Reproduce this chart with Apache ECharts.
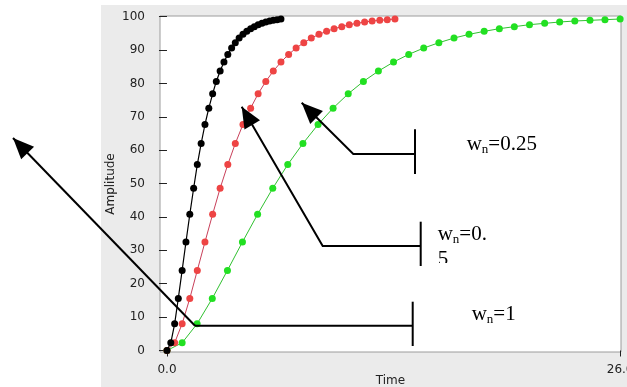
<!DOCTYPE html>
<html><head><meta charset="utf-8">
<script src="https://cdn.jsdelivr.net/npm/echarts@6/dist/echarts.min.js"></script>
<style>html,body{margin:0;padding:0;background:#fff;overflow:hidden}#c{width:627px;height:387px}</style>
</head><body><div id="c"></div>
<script>
// ---- data ----
const seriesNames = ['wn=1', 'wn=0.5', 'wn=0.25'];
const timeW1 = [0, 0.22, 0.44, 0.65, 0.87, 1.09, 1.31, 1.53, 1.74, 1.96, 2.18, 2.40, 2.62, 2.83, 3.05, 3.27, 3.49, 3.71, 3.92, 4.14, 4.36, 4.58, 4.80, 5.01, 5.23, 5.45, 5.67, 5.89, 6.10, 6.32, 6.54];
const ampW1 = [0, 2.3, 8.0, 15.6, 24.0, 32.5, 40.8, 48.6, 55.7, 62.0, 67.7, 72.6, 76.9, 80.6, 83.7, 86.4, 88.7, 90.6, 92.2, 93.6, 94.7, 95.6, 96.4, 97.0, 97.6, 98.0, 98.4, 98.7, 98.9, 99.1, 99.3];
const timeW05 = [0, 0.44, 0.87, 1.31, 1.74, 2.18, 2.62, 3.05, 3.49, 3.92, 4.36, 4.80, 5.23, 5.67, 6.10, 6.54, 6.98, 7.41, 7.85, 8.28, 8.72, 9.16, 9.59, 10.03, 10.46, 10.90, 11.34, 11.77, 12.21, 12.64, 13.08];
const ampW05 = [0, 2.3, 8.0, 15.6, 24.0, 32.5, 40.8, 48.6, 55.7, 62.0, 67.7, 72.6, 76.9, 80.6, 83.7, 86.4, 88.7, 90.6, 92.2, 93.6, 94.7, 95.6, 96.4, 97.0, 97.6, 98.0, 98.4, 98.7, 98.9, 99.1, 99.3];
const timeW025 = [0, 0.87, 1.73, 2.60, 3.47, 4.33, 5.20, 6.07, 6.93, 7.80, 8.67, 9.53, 10.40, 11.27, 12.13, 13.00, 13.87, 14.73, 15.60, 16.47, 17.33, 18.20, 19.07, 19.93, 20.80, 21.67, 22.53, 23.40, 24.27, 25.13, 26.00];
const ampW025 = [0, 2.3, 8.0, 15.6, 24.0, 32.5, 40.8, 48.6, 55.7, 62.0, 67.7, 72.6, 76.9, 80.6, 83.7, 86.4, 88.7, 90.6, 92.2, 93.6, 94.7, 95.6, 96.4, 97.0, 97.6, 98.0, 98.4, 98.7, 98.9, 99.1, 99.3];
const xTickValues = [0, 26];
const yTickValues = [0, 10, 20, 30, 40, 50, 60, 70, 80, 90, 100];
const xAxisTitle = 'Time';
const yAxisTitle = 'Amplitude';

function pairs(t, a) { return t.map((v, i) => [v, a[i]]); }

function arrowHead(tip, from, len, hw) {
  const dx = tip[0] - from[0], dy = tip[1] - from[1];
  const L = Math.sqrt(dx * dx + dy * dy);
  const ux = dx / L, uy = dy / L;
  const bx = tip[0] - ux * len, by = tip[1] - uy * len;
  return [tip, [bx - uy * hw, by + ux * hw], [bx + uy * hw, by - ux * hw]];
}

const LW = 2;
const black = '#000';
function pl(points) { return { type: 'polyline', z: 100, silent: true, shape: { points: points }, style: { stroke: black, lineWidth: LW, fill: null } }; }
function ln(x1, y1, x2, y2) { return { type: 'line', z: 100, silent: true, shape: { x1, y1, x2, y2 }, style: { stroke: black, lineWidth: LW } }; }
function head(tip, from) { return { type: 'polygon', z: 101, silent: true, shape: { points: arrowHead(tip, from, 21, 9) }, style: { fill: black } }; }
const serif = 'Liberation Serif, Times New Roman, serif';
function label(x, y, rest) {
  return { type: 'text', z: 102, silent: true, style: {
    x: x, y: y, text: '{w|w}{n|n}{r|' + rest + '}', verticalAlign: 'middle', align: 'left',
    rich: {
      w: { fontFamily: serif, fontSize: 21, fill: '#000', lineHeight: 24 },
      n: { fontFamily: serif, fontSize: 13, fill: '#000', lineHeight: 24, verticalAlign: 'bottom' },
      r: { fontFamily: serif, fontSize: 21, fill: '#000', lineHeight: 24 }
    }
  } };
}

const chart = echarts.init(document.getElementById('c'), null, { renderer: 'canvas' });
const axisFont = { fontFamily: 'DejaVu Sans', fontSize: 12, color: '#222' };

const option = {
  animation: false,
  backgroundColor: '#fff',
  grid: { left: 160, top: 16, width: 461, height: 336, show: true, backgroundColor: '#fff', borderColor: '#9c9c9c', borderWidth: 1, outerBoundsMode: 'none' },
  xAxis: {
    type: 'value', min: -0.4, max: 26.05, offset: 2,
    name: xAxisTitle, nameLocation: 'middle', nameGap: 21, nameMoveOverlap: false,
    nameTextStyle: axisFont,
    axisLine: { show: false },
    axisTick: { show: true, length: 6, customValues: xTickValues, lineStyle: { color: '#222' } },
    axisLabel: Object.assign({ margin: 10, customValues: xTickValues, formatter: v => v.toFixed(1), alignMaxLabel: 'center', alignMinLabel: 'center' }, axisFont),
    splitLine: { show: false }
  },
  yAxis: {
    type: 'value', min: -0.45, max: 100.2, offset: 3,
    name: yAxisTitle, nameLocation: 'middle', nameGap: 40, nameRotate: 90, nameMoveOverlap: false,
    nameTextStyle: axisFont,
    axisLine: { show: false },
    axisTick: { show: true, length: 8, customValues: yTickValues, lineStyle: { color: '#222' } },
    axisLabel: Object.assign({ margin: 12, customValues: yTickValues }, axisFont),
    splitLine: { show: false }
  },
  series: [
    { name: seriesNames[0], type: 'line', data: pairs(timeW1, ampW1), symbol: 'circle', symbolSize: 7, showAllSymbol: true,
      itemStyle: { color: '#000' }, lineStyle: { color: '#000', width: 1.2 }, z: 4 },
    { name: seriesNames[1], type: 'line', data: pairs(timeW05, ampW05), symbol: 'circle', symbolSize: 7, showAllSymbol: true,
      itemStyle: { color: '#ee4444' }, lineStyle: { color: '#c8405a', width: 1 }, z: 3 },
    { name: seriesNames[2], type: 'line', data: pairs(timeW025, ampW025), symbol: 'circle', symbolSize: 7, showAllSymbol: true,
      itemStyle: { color: '#22e022' }, lineStyle: { color: '#30c030', width: 1 }, z: 2 }
  ],
  graphic: [
    { type: 'rect', z: -10, silent: true, shape: { x: 101, y: 5, width: 526, height: 382 }, style: { fill: '#ebebeb' } },
    // w_n = 1
    pl([[195, 325.7], [412.7, 325.7]]), pl([[13, 138], [195, 325.7]]), head([13, 138], [195, 325.7]),
    ln(412.7, 301.7, 412.7, 346),
    label(471.7, 314, '=1'),
    // w_n = 0.5
    pl([[241.7, 106.7], [322.7, 246], [420.7, 246]]), head([241.7, 106.7], [322.7, 246]),
    ln(420.7, 221.7, 420.7, 266),
    label(437.7, 234, '=0.'),
    { type: 'text', z: 102, silent: true, style: { x: 437.7, y: 259, text: '5', verticalAlign: 'middle', fontFamily: serif, fontSize: 21, fill: '#000' } },
    { type: 'rect', z: 103, silent: true, shape: { x: 434, y: 263, width: 30, height: 12 }, style: { fill: '#fff' } },
    // w_n = 0.25
    pl([[301.7, 102.7], [353.3, 154], [415, 154]]), head([301.7, 102.7], [353.3, 154]),
    ln(415, 129.3, 415, 174),
    label(466.7, 144.5, '=0.25')
  ]
};
chart.setOption(option);
</script>
</body></html>
